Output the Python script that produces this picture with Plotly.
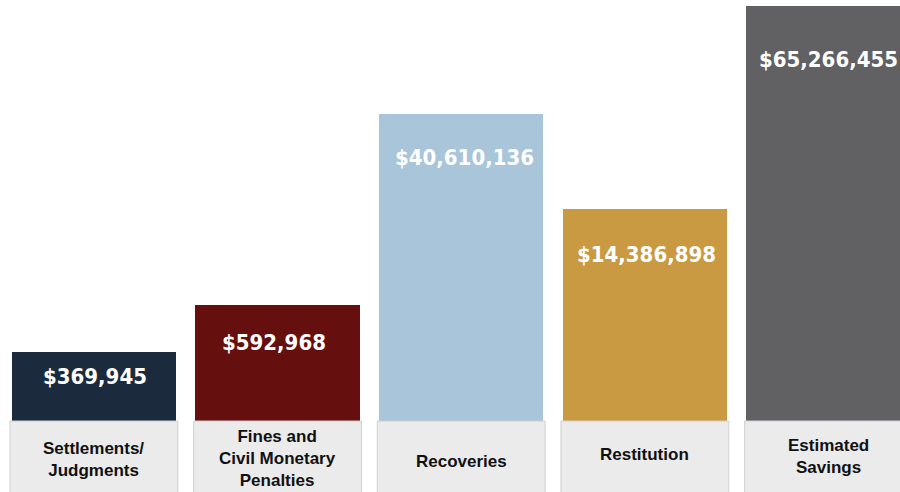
import plotly.graph_objects as go

categories = ["Settlements/<br>Judgments", "Fines and<br>Civil Monetary<br>Penalties",
              "Recoveries", "Restitution", "Estimated<br>Savings"]
amounts = [369945, 592968, 40610136, 14386898, 65266455]
# stylised (non-proportional) bar heights used by the infographic
display_heights = [69, 116, 307, 212, 415]

colors = ["#1b2a3d", "#650f0f", "#a9c5da", "#c99a42", "#616164"]
label_offsets = [24, 37, 43, 45, 53]  # px from bar top to value text centre
label_dx = [1, -4, 3, 2, 0]           # px horizontal nudge of value text
cat_dy = [-3, -2, -5, 2, 0]           # px vertical nudge of category text

xs = list(range(len(categories)))
value_text = ["${:,}".format(v) for v in amounts]

fig = go.Figure()
fig.add_trace(go.Bar(
    x=xs, y=display_heights, width=0.896,
    marker=dict(color=colors, line=dict(width=0)),
    hoverinfo="skip", showlegend=False,
))

for i, (h, t, off, dx, dy) in enumerate(zip(display_heights, value_text, label_offsets, label_dx, cat_dy)):
    fig.add_annotation(x=i, y=h, yshift=-off, xshift=dx, text=t, showarrow=False,
                       xanchor="center", yanchor="middle",
                       font=dict(family="DejaVu Sans Condensed, Arial Narrow, sans-serif",
                                 size=22, color="white", weight="bold"))
    # grey label boxes under each bar
    fig.add_shape(type="rect", xref="x", yref="paper",
                  x0=i - 0.457, x1=i + 0.457, y0=-0.01, y1=71 / 492,
                  fillcolor="#ebebeb", line=dict(color="#d0d0d0", width=1), layer="above")
    fig.add_annotation(x=i, xref="x", yref="paper", y=36 / 492, yshift=dy, text=categories[i],
                       showarrow=False, xanchor="center", yanchor="middle",
                       font=dict(family="Liberation Sans, Arial, sans-serif",
                                 size=17, color="#111111", weight="bold"))

fig.update_layout(
    width=900, height=492,
    margin=dict(l=0, r=0, t=0, b=0),
    paper_bgcolor="white", plot_bgcolor="white",
    xaxis=dict(range=[-0.511, 4.389], visible=False, fixedrange=True),
    yaxis=dict(range=[0, 421], domain=[71 / 492, 1], visible=False, fixedrange=True),
    bargap=0,
)

fig.write_html("out.html", config={"displayModeBar": False},
               post_script="document.body.style.margin='0';document.body.style.overflow='hidden';")
